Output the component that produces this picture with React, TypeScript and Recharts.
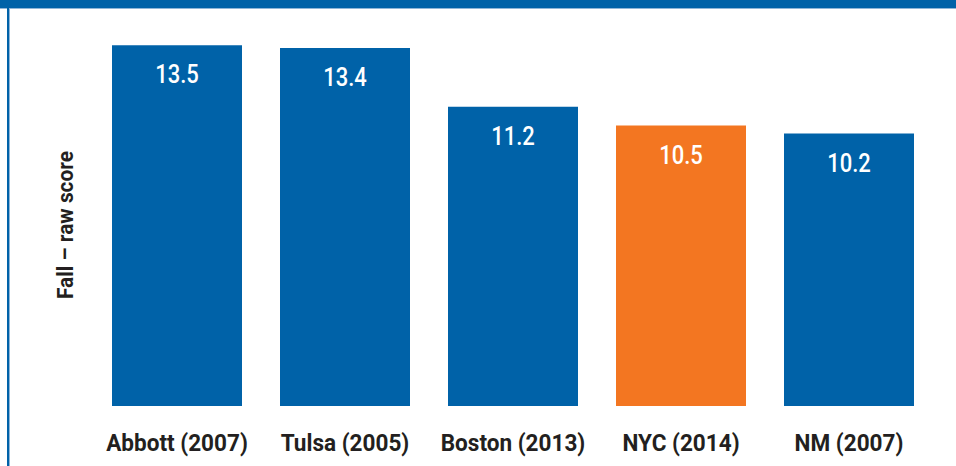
import { Bar, BarChart, Cell, LabelList, XAxis, YAxis } from "recharts";

const categories = ["Abbott (2007)", "Tulsa (2005)", "Boston (2013)", "NYC (2014)", "NM (2007)"];
const scores = [13.5, 13.4, 11.2, 10.5, 10.2];
const highlight = "NYC (2014)";

const BLUE = "#0062a8";
const ORANGE = "#f37621";
const INK = "#231f20";
const FONT = "Roboto, 'Noto Sans', sans-serif";

const data = categories.map((name, i) => ({ name, score: scores[i] }));

const XTick = (props: any) => {
  const { x, y, payload } = props;
  return (
    <text
      transform={`translate(${x},${y + 37}) scale(0.94,1)`}
      textAnchor="middle"
      fill={INK}
      fontFamily={FONT}
      fontWeight={700}
      fontSize={24}
    >
      {payload.value}
    </text>
  );
};

const ValueLabel = (props: any) => {
  const { x, y, width, value } = props;
  return (
    <text
      transform={`translate(${x + width / 2},${y + 38}) scale(0.88,1)`}
      textAnchor="middle"
      fill="#ffffff"
      fontFamily={FONT}
      fontWeight={500}
      fontSize={25}
    >
      {value.toFixed(1)}
    </text>
  );
};

const YLabel = (props: any) => {
  const { viewBox } = props;
  const cx = viewBox.x + viewBox.width - 20;
  const cy = viewBox.y + viewBox.height / 2 + 6;
  return (
    <text
      transform={`translate(${cx},${cy}) rotate(-90) scale(0.95,1)`}
      textAnchor="middle"
      fill={INK}
      fontFamily={FONT}
      fontWeight={700}
      fontSize={22}
    >
      Fall – raw score
    </text>
  );
};

export default function App() {
  return (
    <div
      style={{
        position: "absolute",
        left: 0,
        top: 0,
        width: 956,
        height: 466,
        background: "#ffffff",
        overflow: "hidden",
      }}
    >
      <div style={{ position: "absolute", left: 0, top: 0, width: 956, height: 8, background: BLUE }} />
      <div style={{ position: "absolute", left: 0, top: 8, width: 956, height: 1, background: "#8fb6d8" }} />
      <div style={{ position: "absolute", left: 7, top: 8, width: 2, height: 458, background: BLUE }} />
      <div style={{ position: "absolute", left: 9, top: 9, width: 1, height: 457, background: "#8fb6d8" }} />
      <div style={{ position: "absolute", left: 0, top: 0 }}>
        <BarChart width={956} height={466} data={data} margin={{ top: 32, right: 23, bottom: 0, left: 0 }}>
          <XAxis
            dataKey="name"
            axisLine={false}
            tickLine={false}
            tick={<XTick />}
            interval={0}
            height={60}
          />
          <YAxis
            domain={[0, 14]}
            width={93}
            axisLine={false}
            tickLine={false}
            tick={false}
            label={<YLabel />}
          />
          <Bar dataKey="score" barSize={130} isAnimationActive={false}>
            {data.map((d) => (
              <Cell key={d.name} fill={d.name === highlight ? ORANGE : BLUE} />
            ))}
            <LabelList dataKey="score" content={<ValueLabel />} />
          </Bar>
        </BarChart>
      </div>
    </div>
  );
}
